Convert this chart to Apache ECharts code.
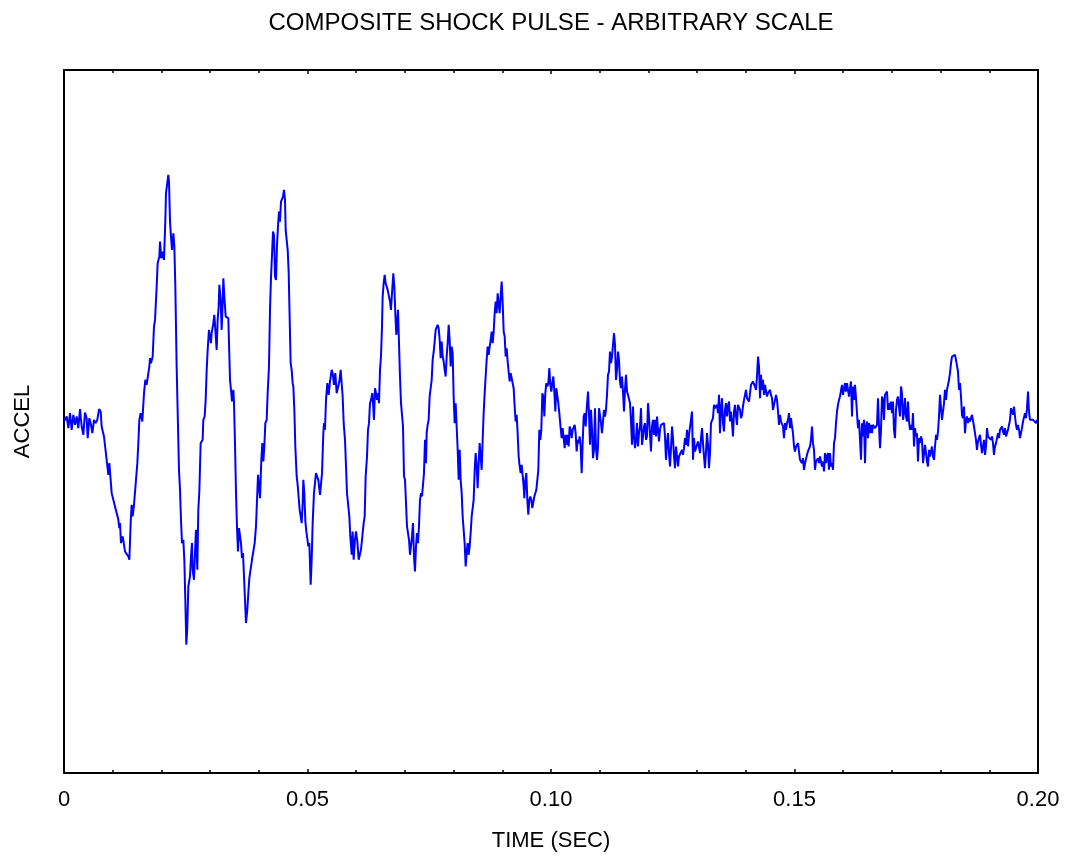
<!DOCTYPE html>
<html>
<head>
<meta charset="utf-8">
<script src="https://cdn.jsdelivr.net/npm/echarts@6/dist/echarts.min.js"></script>
<style>html,body{margin:0;padding:0;background:#fff}#c{width:1070px;height:865px}</style>
</head>
<body>
<div id="c"></div>
<script>
const titleText = 'COMPOSITE SHOCK PULSE - ARBITRARY SCALE';
const xName = 'TIME (SEC)';
const yName = 'ACCEL';
const tickLabels = ['0', '0.05', '0.10', '0.15', '0.20'];

// time in milliseconds
const timeMs = [
0,0.21,0.55,0.89,1.23,1.57,1.92,2.26,2.60,2.94,3.29,3.63,3.97,4.31,4.65,4.86,5.20,5.48,5.82,6.16,6.50,6.84,7.19,7.53,7.73,8.08,8.21,8.56,8.76,9.10,9.31,9.58,9.79,10.13,10.47,10.81,11.16,11.36,11.50,11.70,12.05,12.32,12.53,12.87,13.21,13.42,13.69,13.89,14.10,14.37,14.78,15.06,15.26,15.47,15.74,16.08,16.43,16.70,16.97,17.32,17.52,17.66,17.86,18.21,18.48,18.69,19.03,19.23,19.58,19.71,19.99,20.26,20.53,20.81,20.94,21.22,21.42,21.56,21.77,21.97,22.18,22.45,22.66,22.86,23.13,23.41,23.61,23.82,24.02,24.23,24.50,24.71,24.91,25.12,25.32,25.53,25.87,26.08,26.28,26.42,26.69,26.90,27.10,27.38,27.58,27.79,27.93,28.06,28.47,28.61,28.88,29.09,29.30,29.50,29.77,29.98,30.18,30.32,30.66,30.87,31.14,31.35,31.55,31.76,31.90,32.17,32.37,32.58,32.72,32.92,33.20,33.40,33.74,34.09,34.29,34.50,34.77,34.91,35.11,35.32,35.52,35.73,35.93,36.14,36.34,36.55,36.76,36.96,37.17,37.37,37.64,37.85,38.06,38.33,38.60,38.88,39.15,39.42,39.56,39.84,40.04,40.25,40.52,40.73,40.93,41.14,41.34,41.62,41.82,42.09,42.30,42.50,42.71,42.92,43.12,43.33,43.53,43.74,43.94,44.15,44.35,44.56,44.76,44.97,45.17,45.38,45.52,45.72,45.93,46.13,46.34,46.54,46.75,46.95,47.09,47.30,47.50,47.78,47.98,48.19,48.39,48.60,48.80,49.01,49.14,49.35,49.56,49.76,49.97,50.17,50.38,50.65,50.86,51.06,51.33,51.54,51.74,52.02,52.22,
52.57,52.77,52.98,53.25,53.39,53.59,53.80,54.07,54.35,54.62,54.96,55.17,55.44,55.71,55.99,56.26,56.54,56.81,57.02,57.22,57.43,57.70,57.91,58.11,58.38,58.59,58.79,59.07,59.27,59.48,59.75,59.96,60.23,60.51,60.78,60.98,61.26,61.53,61.74,61.94,62.22,62.42,62.63,62.83,63.04,63.31,63.45,63.65,63.86,64.07,64.27,64.48,64.68,64.89,65.09,65.30,65.43,65.64,65.84,66.05,66.26,66.46,66.67,66.94,67.14,67.35,67.62,67.83,68.03,68.24,68.45,68.58,68.79,68.99,69.20,69.40,69.61,69.82,70.02,70.23,70.43,70.64,70.84,71.05,71.25,71.46,71.66,71.87,72.07,72.28,72.48,72.69,72.89,73.10,73.31,73.51,73.72,73.92,74.13,74.33,74.47,74.67,74.88,75.08,75.29,75.50,75.70,75.91,76.11,76.32,76.52,76.73,76.93,77.14,77.34,77.55,77.76,77.96,78.17,78.37,78.58,78.78,78.99,79.19,79.40,79.60,79.81,80.01,80.22,80.42,80.63,80.84,81.04,81.25,81.45,81.66,81.86,82.07,82.27,82.48,82.68,82.89,83.09,83.30,83.50,83.71,83.92,84.12,84.33,84.53,84.74,84.94,85.15,85.35,85.56,85.76,85.97,86.17,86.38,86.58,86.79,86.99,87.20,87.41,87.61,87.82,88.02,88.23,88.43,88.64,88.84,89.05,89.25,89.46,89.66,89.87,90.08,90.28,90.49,90.69,90.90,91.10,91.31,91.51,91.72,91.92,92.13,92.33,92.54,92.74,92.95,93.15,93.36,93.57,93.77,93.98,94.18,94.39,94.52,94.73,94.93,95.14,95.34,95.55,95.75,95.96,96.16,96.37,96.58,96.78,96.99,97.19,97.40,97.60,97.81,98.01,98.22,98.42,98.63,98.83,99.04,99.25,99.45,99.66,99.86,100.07,100.27,100.48,100.68,100.89,101.09,101.30,101.50,101.71,
101.98,102.19,102.39,102.60,102.81,103.01,103.22,103.42,103.63,103.83,104.04,104.24,104.45,104.65,104.86,105.06,105.27,105.48,105.68,105.89,106.09,106.30,106.50,106.71,106.91,107.12,107.32,107.60,107.80,108.01,108.21,108.42,108.62,108.83,109.03,109.24,109.45,109.65,109.86,110.06,110.27,110.47,110.68,110.88,111.09,111.29,111.50,111.70,111.91,112.11,112.32,112.53,112.73,112.94,113.14,113.35,113.55,113.76,113.96,114.17,114.37,114.58,114.78,114.99,115.19,115.40,115.61,115.81,116.02,116.22,116.43,116.63,116.84,117.04,117.25,117.45,117.66,117.86,118.07,118.28,118.48,118.69,118.89,119.10,119.30,119.51,119.71,119.92,120.12,120.33,120.53,120.74,120.94,121.15,121.36,121.56,121.77,121.97,122.18,122.38,122.59,122.79,123.00,123.20,123.41,123.61,123.82,124.02,124.23,124.44,124.64,124.85,125.05,125.26,125.46,125.67,125.87,126.08,126.28,126.49,126.69,126.90,127.10,127.31,127.52,127.72,127.93,128.13,128.34,128.54,128.75,128.95,129.16,129.36,129.57,129.77,129.98,130.18,130.39,130.60,130.80,131.01,131.21,131.42,131.62,131.83,132.03,132.24,132.44,132.65,132.85,133.06,133.26,133.47,133.68,133.88,134.09,134.29,134.50,134.70,134.91,135.11,135.32,135.52,135.73,135.93,136.14,136.34,136.55,136.76,136.96,137.17,137.37,137.58,137.78,137.99,138.19,138.40,138.60,138.81,139.01,139.22,139.42,139.63,139.84,140.04,140.25,140.45,140.66,140.86,141.07,141.27,141.48,141.68,141.89,142.09,142.30,142.51,142.71,142.92,143.12,143.33,143.53,143.74,143.94,144.15,144.35,144.56,144.76,144.97,145.17,145.38,145.59,145.79,146.00,146.20,146.41,146.61,146.82,147.02,147.23,147.43,147.64,147.84,148.05,148.25,148.46,148.67,148.87,149.08,149.28,149.49,149.69,149.90,150.10,150.31,150.51,150.72,150.92,151.13,
151.33,151.54,151.75,151.95,152.16,152.36,152.57,152.77,152.98,153.18,153.39,153.59,153.80,154.00,154.21,154.41,154.62,154.83,155.03,155.24,155.44,155.65,155.85,156.06,156.26,156.47,156.67,156.88,157.08,157.29,157.49,157.70,157.91,158.11,158.32,158.52,158.73,158.93,159.14,159.34,159.55,159.75,159.96,160.16,160.37,160.57,160.78,160.99,161.19,161.40,161.60,161.81,162.01,162.22,162.42,162.63,162.83,163.04,163.24,163.45,163.66,163.86,164.07,164.27,164.48,164.68,164.89,165.09,165.30,165.50,165.71,165.91,166.12,166.32,166.53,166.74,166.94,167.15,167.35,167.56,167.76,167.97,168.17,168.38,168.58,168.79,168.99,169.20,169.40,169.61,169.82,170.02,170.23,170.43,170.64,170.84,171.05,171.25,171.46,171.66,171.87,172.07,172.28,172.48,172.69,172.90,173.10,173.31,173.51,173.72,173.92,174.13,174.33,174.54,174.74,174.95,175.15,175.36,175.57,175.77,175.98,176.18,176.39,176.59,176.80,177.00,177.21,177.41,177.62,177.82,178.03,178.23,178.44,178.65,178.85,179.06,179.26,179.47,179.67,179.88,180.08,180.29,180.49,180.70,180.90,181.11,181.31,181.52,181.73,181.93,182.14,182.34,182.55,182.75,182.96,183.16,183.37,183.57,183.78,183.98,184.19,184.39,184.60,184.80,185.01,185.22,185.42,185.63,185.83,186.04,186.24,186.45,186.65,186.86,187.06,187.27,187.47,187.68,187.88,188.09,188.30,188.50,188.71,188.91,189.12,189.32,189.53,189.73,189.94,190.14,190.35,190.55,190.76,190.96,191.17,191.38,191.58,191.79,191.99,192.20,192.40,192.61,192.81,193.02,193.22,193.43,193.63,193.84,194.05,194.25,194.46,194.66,194.87,195.07,195.28,195.48,195.69,195.89,196.10,196.30,196.51,196.71,196.92,197.13,197.33,197.54,197.74,197.95,198.15,198.36,198.56,198.77,198.97,199.18,199.38,199.59,199.79
];

// acceleration, arbitrary units
const accel = [
0.0,0.5,1.5,-2.0,2.5,-2.5,2.0,-1.0,1.5,-2.0,3.7,-1.5,-4.0,2.7,1.0,-5.0,1.0,-0.5,-3.5,0.5,-0.5,0.5,3.7,3.0,-1.5,-1.5,-4.5,-5.0,-11.5,-16.0,-12.5,-17.5,-21.5,-21.0,-25.5,-26.0,-29.5,-32.0,-30.5,-36.5,-34.5,-34.5,-39.0,-39.5,-40.5,-41.5,-30.5,-25.0,-28.5,-25.0,-24.5,-12.5,-6.5,0.5,2.5,0.0,8.5,12.5,11.0,11.5,16.5,19.0,17.5,19.5,28.5,30.5,40.5,47.5,49.5,54.0,49.0,51.0,48.5,60.5,68.5,69.0,74.0,72.0,60.0,55.5,51.5,56.5,52.5,40.5,16.5,-1.5,-14.5,-20.5,-29.5,-36.5,-35.5,-41.5,-53.5,-67.0,-61.5,-49.5,-46.5,-40.5,-36.5,-44.5,-47.5,-39.5,-32.5,-44.5,-26.5,-21.0,-13.5,-6.5,-5.5,0.5,1.5,6.5,15.5,21.5,27.5,27.0,23.5,26.5,29.5,32.0,32.0,21.5,30.5,34.5,41.0,36.5,27.5,35.5,43.0,37.5,31.5,31.0,31.0,12.5,9.5,6.0,9.5,5.5,-6.5,-21.5,-31.5,-39.0,-32.0,-32.5,-36.5,-41.0,-39.5,-46.5,-47.0,-60.5,-56.5,-51.5,-47.0,-46.5,-41.5,-41.0,-36.5,-31.5,-26.5,-16.0,-15.5,-23.0,-11.5,-6.5,-12.0,-7.5,-0.5,0.5,8.5,16.5,33.5,43.0,43.5,57.0,56.0,43.5,42.5,53.0,58.5,63.0,60.0,66.0,66.0,67.5,69.5,66.5,57.5,54.5,51.5,45.0,44.5,17.5,15.5,11.5,10.5,3.5,-7.5,-16.5,-19.0,-19.5,-26.5,-28.5,-30.5,-24.5,-17.5,-21.5,-30.0,-33.0,-33.5,-37.5,-36.5,-49.0,-41.5,-30.5,-21.5,-21.0,-15.5,-15.0,-17.5,
-22.0,-22.5,-15.5,-3.5,-0.5,-2.5,6.5,11.5,8.0,12.0,15.5,14.5,11.0,14.5,8.5,8.0,12.0,15.5,16.0,7.5,-0.5,-5.5,-13.5,-21.5,-21.5,-28.5,-34.5,-40.0,-33.0,-41.5,-35.5,-33.0,-36.0,-41.5,-42.0,-38.5,-34.5,-30.5,-28.5,-16.5,-10.5,-2.5,-0.5,5.5,6.5,8.5,5.5,0.5,10.0,8.5,6.5,8.5,5.5,15.5,19.5,28.5,37.5,41.5,44.0,41.5,41.0,39.5,38.0,36.0,33.5,38.5,44.5,40.5,32.5,26.0,30.0,33.5,23.5,13.5,5.5,5.5,-1.5,-16.5,-17.5,-24.5,-31.5,-33.5,-35.5,-40.0,-39.5,-34.5,-30.5,-40.5,-45.0,-37.5,-33.5,-36.5,-31.5,-23.5,-21.5,-22.5,-22.0,-15.5,-5.5,-12.5,-3.5,-1.0,0.5,7.5,7.5,12.5,18.5,21.0,24.0,27.5,28.0,29.0,28.0,24.5,19.0,24.0,19.5,18.0,15.5,13.5,19.5,23.5,29.0,24.5,16.5,22.5,20.5,7.5,-0.5,5.5,-1.5,-8.5,-17.5,-8.5,-17.5,-21.5,-28.5,-29.0,-36.5,-43.5,-39.5,-36.5,-40.0,-37.5,-33.5,-28.5,-28.5,-23.5,-14.5,-9.5,-13.5,-20.0,-12.5,-6.5,-10.5,-14.5,-5.5,2.5,8.5,13.5,18.5,22.5,20.0,22.5,24.5,27.0,23.5,27.0,32.5,36.0,32.5,38.5,35.5,32.5,37.5,42.0,35.5,27.0,25.5,19.5,22.0,18.0,17.5,12.0,14.5,15.0,14.0,10.0,4.5,0.0,2.0,-3.5,-10.5,-13.5,-15.5,-13.0,-13.5,-19.5,-23.0,-17.5,-15.5,-23.5,-28.0,-23.5,-22.5,-23.5,-26.0,-25.5,-22.5,-23.0,-20.5,-20.0,-14.5,-2.5,-5.5,-2.5,8.5,7.5,1.5,8.5,11.5,10.5,11.5,16.0,11.0,9.0,11.5,13.5,9.0,3.0,10.0,10.0,5.5,2.5,
-2.0,-5.0,-2.0,-2.5,-8.0,-4.0,-7.0,-4.0,-7.5,-1.5,-2.5,-5.0,-2.5,-2.0,-1.0,-3.5,-9.0,-5.5,-6.5,-4.5,-7.5,-15.5,-6.5,1.5,2.5,-1.5,3.5,9.0,2.5,-7.0,3.5,-2.5,-11.0,-8.5,4.0,-8.0,-11.5,-7.5,4.0,3.5,-0.5,-3.5,0.0,3.5,1.5,3.5,8.0,14.0,15.0,21.0,17.5,19.5,23.0,26.5,23.0,12.5,15.5,21.0,18.5,12.0,10.0,13.5,9.0,3.0,9.5,14.0,9.0,8.0,8.5,5.5,0.0,-7.0,4.5,-4.5,-8.0,-5.5,-0.5,-7.5,-3.5,-1.5,4.0,-7.0,-4.5,-1.5,-0.5,-5.5,-4.5,5.5,1.5,-4.0,-9.0,-1.5,0.5,-4.0,0.5,-4.5,1.5,-2.5,-6.0,-2.5,-1.0,-1.0,-1.5,-0.5,-4.5,-11.5,-6.5,-3.5,-9.5,-13.5,-8.0,-1.5,-5.0,-10.5,-14.0,-7.5,-7.5,-13.5,-10.5,-10.5,-10.5,-8.5,-10.0,-8.0,-5.0,-7.0,-2.5,-7.5,-4.0,-4.0,-4.5,3.0,-11.5,-5.0,-9.0,-9.5,-8.5,-6.0,-6.5,-9.5,-5.0,-2.0,-6.5,-10.5,-14.0,-9.0,-3.5,-7.0,-14.0,-9.5,-0.5,0.0,1.0,5.0,4.0,4.5,5.0,2.5,8.0,-3.5,4.0,7.0,-0.5,-3.0,3.5,5.5,1.5,4.5,6.0,0.0,3.0,-0.5,-4.5,3.0,5.0,1.5,-1.0,5.0,4.5,3.5,1.0,2.0,4.5,6.5,8.0,9.5,7.0,6.5,6.0,6.5,11.0,11.5,12.0,11.5,10.5,9.5,13.5,19.5,16.5,7.0,14.0,9.5,12.5,8.0,11.0,11.5,7.5,8.5,8.0,9.5,8.0,7.0,3.5,5.0,6.5,8.0,6.5,3.0,-1.0,2.0,0.0,-0.5,-1.5,-5.0,-0.5,-2.5,-0.5,0.5,2.5,-2.0,1.0,-1.5,-3.5,-7.5,-9.0,-7.5,-8.0,-6.5,-9.0,-11.5,
-12.0,-12.5,-11.0,-14.5,-12.5,-12.0,-10.0,-9.0,-9.5,-7.5,-5.5,-1.5,-6.5,-8.5,-14.5,-12.0,-12.0,-11.0,-12.5,-10.5,-10.0,-13.5,-12.0,-15.0,-9.5,-12.5,-10.5,-9.5,-14.5,-9.5,-13.5,-12.5,-14.5,-6.5,-5.0,-0.5,3.0,5.0,6.5,7.5,7.0,11.0,8.0,7.5,11.5,9.0,11.5,9.5,7.5,10.0,12.0,1.5,10.5,6.5,11.0,7.0,7.5,-2.0,0.5,1.0,-11.5,-0.5,-4.5,0.5,-12.5,-1.5,0.0,-5.0,-0.5,-3.5,-1.0,-3.5,-1.0,-1.5,-2.0,-2.5,-1.0,7.0,-1.5,-8.0,-2.5,7.5,6.5,0.5,8.0,8.5,9.0,3.5,5.5,3.5,6.0,2.5,6.0,-2.5,-5.0,3.5,6.5,7.5,7.0,1.5,10.5,8.5,0.5,2.5,7.0,1.5,0.0,6.0,0.0,-2.5,-1.0,-2.5,2.5,-7.5,-2.0,-4.5,-3.5,-12.0,-5.0,-6.5,-4.5,-5.5,-12.5,-12.0,-7.0,-6.5,-12.0,-13.5,-8.5,-10.5,-9.0,-7.5,-10.5,-11.5,-7.5,-4.0,-5.5,-3.0,1.5,8.0,4.0,0.5,3.0,5.5,9.5,6.5,9.5,10.0,12.5,14.5,17.5,19.5,20.0,19.5,20.0,18.5,19.0,15.0,9.5,11.5,7.5,2.0,1.0,4.5,-3.5,0.5,1.5,-0.5,1.0,0.0,1.0,2.0,2.0,-1.5,-2.0,-5.5,-8.5,-6.0,-5.0,-4.0,-7.0,-9.5,-9.0,-5.5,-10.0,-7.5,-2.0,-4.5,-5.0,-5.0,-5.5,-4.5,-6.5,-10.0,-7.5,-6.5,-6.0,-3.5,-5.0,-2.5,-2.0,-1.5,-3.0,-4.0,-2.0,-4.5,-4.5,-2.5,-2.0,0.5,4.0,4.5,2.0,4.5,1.5,-1.0,-2.5,-1.0,-2.5,-5.0,-5.5,-2.0,0.0,0.5,2.5,1.0,4.0,9.0,3.0,0.5,0.5,0.3,0.5,0.0,0.5,-0.5,0.5
];

const seriesData = timeMs.map((t, i) => [t, accel[i]]);

const chart = echarts.init(document.getElementById('c'), null, { renderer: 'canvas' });
const font = 'Liberation Sans, Arial, Helvetica, sans-serif';
chart.setOption({
  animation: false,
  backgroundColor: '#ffffff',
  title: {
    text: titleText,
    left: 546,
    top: 6,
    textAlign: 'center',
    textStyle: { fontFamily: font, fontSize: 24, fontWeight: 'normal', color: '#000' }
  },
  grid: { left: 64, right: 32, top: 70, bottom: 92, containLabel: false },
  xAxis: [{
    type: 'value',
    position: 'bottom',
    min: 0, max: 200, interval: 50,
    name: xName,
    nameLocation: 'middle',
    nameGap: 57,
    nameTextStyle: { fontFamily: font, fontSize: 22, color: '#000' },
    axisLine: { show: true, onZero: false, lineStyle: { color: '#000', width: 2 } },
    axisTick: { show: true, inside: true, length: 4, lineStyle: { color: '#000', width: 1.5 } },
    minorTick: { show: true, splitNumber: 5, length: 3, lineStyle: { color: '#000', width: 1.5 } },
    axisLabel: {
      margin: 16,
      fontFamily: font, fontSize: 22, color: '#000',
      formatter: v => tickLabels[Math.round(v / 50)]
    },
    splitLine: { show: false }
  }, {
    type: 'value',
    position: 'top',
    min: 0, max: 200, interval: 50,
    axisLine: { show: true, onZero: false, lineStyle: { color: '#000', width: 2 } },
    axisTick: { show: true, inside: true, length: 4, lineStyle: { color: '#000', width: 1.5 } },
    minorTick: { show: true, splitNumber: 5, length: 3, lineStyle: { color: '#000', width: 1.5 } },
    axisLabel: { show: false },
    splitLine: { show: false }
  }],
  yAxis: [{
    type: 'value',
    position: 'left',
    min: -105.5, max: 105.5,
    name: yName,
    nameLocation: 'middle',
    nameGap: 30,
    nameRotate: 90,
    nameTextStyle: { fontFamily: font, fontSize: 22, color: '#000' },
    axisLine: { show: true, onZero: false, lineStyle: { color: '#000', width: 2 } },
    axisTick: { show: false },
    axisLabel: { show: false },
    splitLine: { show: false }
  }, {
    type: 'value',
    position: 'right',
    min: -105.5, max: 105.5,
    axisLine: { show: true, onZero: false, lineStyle: { color: '#000', width: 2 } },
    axisTick: { show: false },
    axisLabel: { show: false },
    splitLine: { show: false }
  }],
  series: [{
    type: 'line',
    xAxisIndex: 0,
    yAxisIndex: 0,
    data: seriesData,
    showSymbol: false,
    symbol: 'none',
    lineStyle: { color: '#0000ff', width: 2 },
    clip: true
  }]
});
</script>
</body>
</html>
